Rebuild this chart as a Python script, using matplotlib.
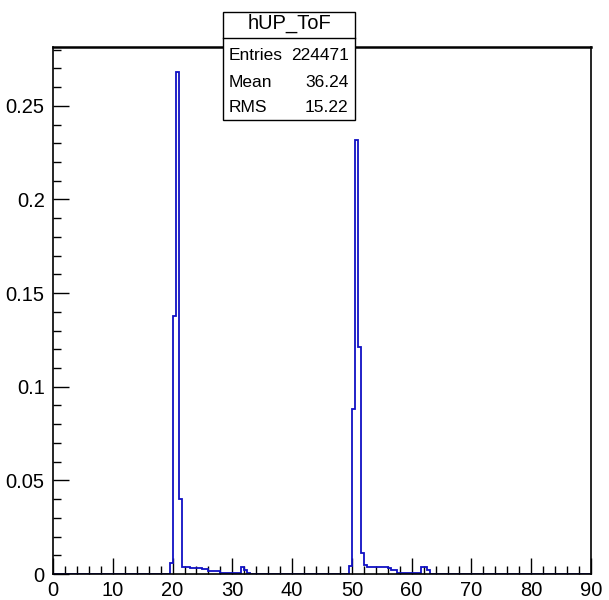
import numpy as np
import matplotlib
matplotlib.use("Agg")
import matplotlib.pyplot as plt
from matplotlib.patches import Rectangle
from matplotlib.lines import Line2D
from matplotlib.ticker import MultipleLocator, FuncFormatter

plt.rcParams["font.family"] = ["Liberation Sans", "DejaVu Sans"]

# histogram hUP_ToF, 180 bins of 0.5 from 0 to 90
x_min, x_max, bin_width = 0.0, 90.0, 0.5

# first peak, bins starting at 19.5
peak1_start = 19.5
peak1_values = [0.006, 0.138, 0.268, 0.040, 0.004, 0.004, 0.004, 0.003,
                0.003, 0.0034, 0.0034, 0.0025, 0.0025, 0.0018, 0.0016,
                0.0016, 0.0016, 0.0005, 0.0004, 0.0004, 0.0004, 0.0004,
                0.0005, 0.0005, 0.0039, 0.0022, 0.0003]

# second peak, bins starting at 49.5
peak2_start = 49.5
peak2_values = [0.0045, 0.088, 0.232, 0.121, 0.011, 0.005, 0.0036, 0.0036,
                0.0036, 0.004, 0.004, 0.004, 0.004, 0.003, 0.002, 0.002,
                0.0007, 0.0006, 0.0006, 0.0006, 0.0006, 0.0006, 0.0006,
                0.0006, 0.0036, 0.0036, 0.002]

hist_name = "hUP_ToF"
stats_labels = ["Entries", "Mean", "RMS"]
stats_values = ["224471", "36.24", "15.22"]
y_top = 0.2814

n_bins = int(round((x_max - x_min) / bin_width))
edges = np.linspace(x_min, x_max, n_bins + 1)
counts = np.zeros(n_bins)
for start, vals in [(peak1_start, peak1_values), (peak2_start, peak2_values)]:
    i0 = int(round((start - x_min) / bin_width))
    counts[i0:i0 + len(vals)] = vals

fig = plt.figure(figsize=(6.09, 6.00), dpi=100)
ax = fig.add_axes([53 / 609, 1 - 574 / 600, (591 - 53) / 609, (574 - 47) / 600])

ax.stairs(counts, edges, color="#1010c4", linewidth=1.3, zorder=2)

ax.set_xlim(x_min, x_max)
ax.set_ylim(0, y_top)

ax.xaxis.set_major_locator(MultipleLocator(10))
ax.xaxis.set_minor_locator(MultipleLocator(2))
ax.yaxis.set_major_locator(MultipleLocator(0.05))
ax.yaxis.set_minor_locator(MultipleLocator(0.01))
ax.yaxis.set_major_formatter(FuncFormatter(lambda v, p: "%g" % round(v, 4)))

ax.tick_params(which="both", direction="in", top=False, right=False,
               width=1.0, color="black", labelsize=14.5)
ax.tick_params(which="major", length=11.5)
ax.tick_params(which="minor", length=5.8)
ax.tick_params(axis="y", pad=6)
ax.tick_params(axis="x", pad=5)

for side in ["left", "bottom", "top", "right"]:
    ax.spines[side].set_linewidth(1.2)
ax.spines["top"].set_linewidth(1.8)

# stats box
bx0, bx1 = 223.3 / 609, 355.0 / 609
by_top, by_sep, by_bot = 1 - 11.7 / 600, 1 - 38.3 / 600, 1 - 120.0 / 600
fig.add_artist(Rectangle((bx0, by_bot), bx1 - bx0, by_top - by_bot,
                         transform=fig.transFigure, facecolor="white",
                         edgecolor="black", linewidth=1.0, zorder=5))
fig.add_artist(Line2D([bx0, bx1], [by_sep, by_sep], transform=fig.transFigure,
                      color="black", linewidth=1.0, zorder=6))
fig.text((bx0 + bx1) / 2, 1 - 28.5 / 600, hist_name, ha="center",
         va="baseline", fontsize=14.5, zorder=7)
row_base = [59.5, 87.0, 112.5]
for lab, val, yb in zip(stats_labels, stats_values, row_base):
    fig.text(229 / 609, 1 - yb / 600, lab, ha="left", va="baseline",
             fontsize=12.5, zorder=7)
    fig.text(348.5 / 609, 1 - yb / 600, val, ha="right", va="baseline",
             fontsize=12.5, zorder=7)

fig.savefig("out.png", dpi=100)
